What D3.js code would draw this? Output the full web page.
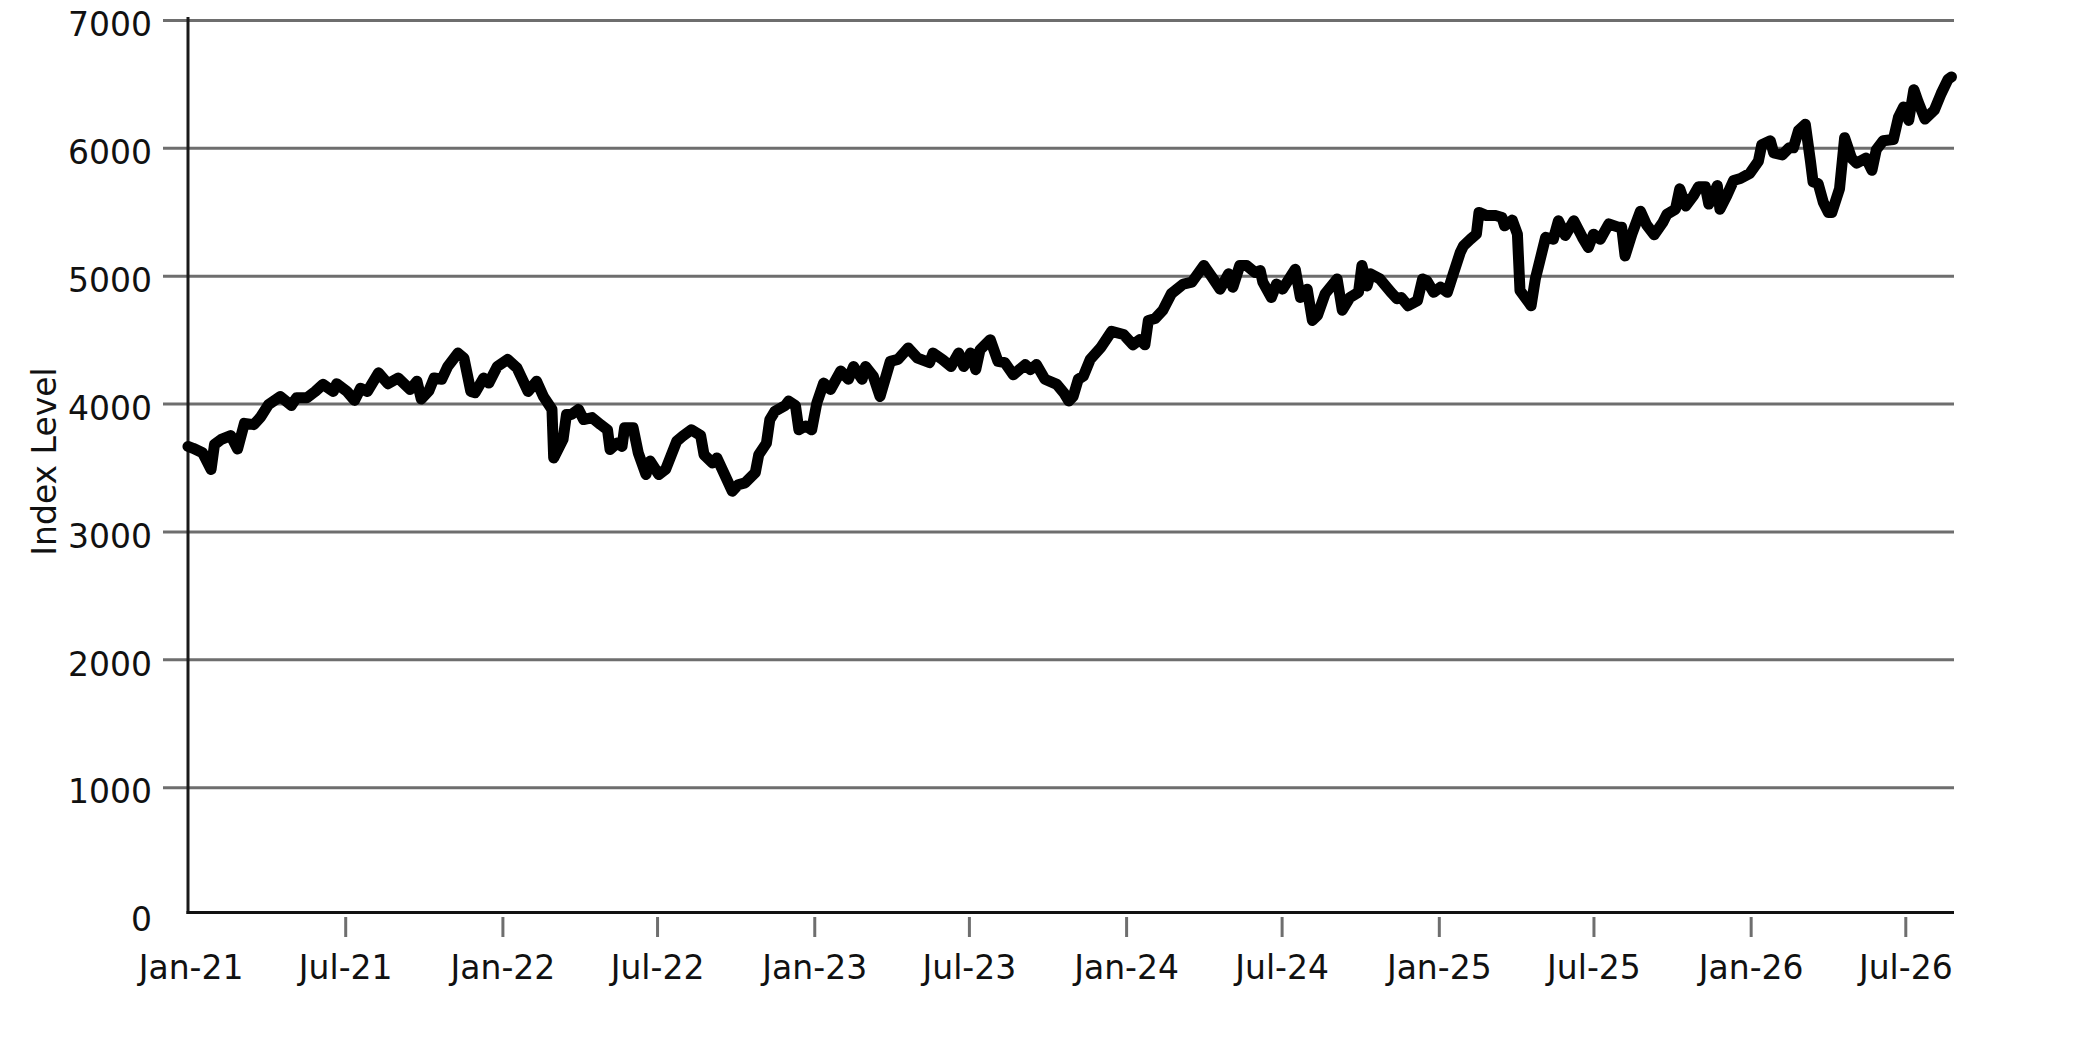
<!DOCTYPE html>
<html>
<head>
<meta charset="utf-8">
<script src="https://cdn.jsdelivr.net/npm/d3@7"></script>
<style>
  html, body { margin: 0; padding: 0; background: #ffffff; }
  svg { display: block; font-family: "DejaVu Sans", sans-serif; }
</style>
</head>
<body>
<svg id="chart" width="2083" height="1042"></svg>
<script>
// ---- data ----
const dates = [
"2020-12-29","2021-01-04","2021-01-15","2021-01-25","2021-01-29","2021-02-06","2021-02-17","2021-02-25","2021-03-05","2021-03-16",
"2021-03-24","2021-04-02","2021-04-16","2021-04-29","2021-05-05","2021-05-17","2021-05-27","2021-06-05","2021-06-17","2021-06-21",
"2021-07-03","2021-07-12","2021-07-19","2021-07-27","2021-08-09","2021-08-20","2021-09-01","2021-09-15","2021-09-23","2021-09-28",
"2021-10-07","2021-10-13","2021-10-22","2021-10-29","2021-11-10","2021-11-17","2021-11-25","2021-11-30","2021-12-10","2021-12-16",
"2021-12-26","2022-01-07","2022-01-18","2022-01-31","2022-02-10","2022-02-18","2022-02-28","2022-03-02","2022-03-13","2022-03-17",
"2022-03-23","2022-03-31","2022-04-06","2022-04-16","2022-04-26","2022-05-04","2022-05-07","2022-05-15","2022-05-21","2022-05-24",
"2022-06-03","2022-06-09","2022-06-18","2022-06-23","2022-07-03","2022-07-11","2022-07-24","2022-07-31","2022-08-10","2022-08-21",
"2022-08-25","2022-09-04","2022-09-09","2022-09-17","2022-09-27","2022-10-04","2022-10-12","2022-10-24","2022-10-28","2022-11-06",
"2022-11-10","2022-11-16","2022-11-28","2022-12-02","2022-12-10","2022-12-14","2022-12-22","2022-12-29","2023-01-04","2023-01-12",
"2023-01-20","2023-02-01","2023-02-10","2023-02-16","2023-02-26","2023-03-02","2023-03-11","2023-03-19","2023-03-31","2023-04-09",
"2023-04-21","2023-05-02","2023-05-16","2023-05-20","2023-05-31","2023-06-10","2023-06-19","2023-06-25","2023-07-03","2023-07-09",
"2023-07-14","2023-07-26","2023-08-04","2023-08-12","2023-08-22","2023-09-05","2023-09-11","2023-09-18","2023-09-28","2023-10-12",
"2023-10-20","2023-10-26","2023-10-31","2023-11-06","2023-11-12","2023-11-20","2023-12-02","2023-12-15","2023-12-29","2024-01-09",
"2024-01-17","2024-01-23","2024-01-27","2024-02-04","2024-02-13","2024-02-23","2024-03-08","2024-03-18","2024-04-01","2024-04-11",
"2024-04-20","2024-04-30","2024-05-05","2024-05-13","2024-05-21","2024-05-31","2024-06-06","2024-06-09","2024-06-19","2024-06-25",
"2024-07-02","2024-07-17","2024-07-23","2024-07-31","2024-08-06","2024-08-12","2024-08-21","2024-09-04","2024-09-10","2024-09-19",
"2024-09-29","2024-10-03","2024-10-09","2024-10-13","2024-10-24","2024-11-06","2024-11-13","2024-11-18","2024-11-26","2024-12-07",
"2024-12-13","2024-12-18","2024-12-26","2025-01-03","2025-01-11","2025-01-18","2025-01-26","2025-01-30","2025-02-07","2025-02-14",
"2025-02-17","2025-02-26","2025-03-09","2025-03-16","2025-03-19","2025-03-28","2025-04-03","2025-04-06","2025-04-19","2025-04-24",
"2025-05-06","2025-05-15","2025-05-21","2025-05-29","2025-06-08","2025-06-18","2025-06-25","2025-07-01","2025-07-09","2025-07-19",
"2025-07-30","2025-08-03","2025-08-07","2025-08-15","2025-08-25","2025-09-01","2025-09-10","2025-09-20","2025-09-25","2025-10-05",
"2025-10-10","2025-10-17","2025-10-26","2025-11-01","2025-11-09","2025-11-13","2025-11-23","2025-11-26","2025-12-04","2025-12-12",
"2025-12-20","2025-12-31","2026-01-10","2026-01-14","2026-01-24","2026-01-28","2026-02-07","2026-02-15","2026-02-20","2026-02-26",
"2026-03-06","2026-03-12","2026-03-15","2026-03-21","2026-03-27","2026-04-02","2026-04-06","2026-04-15","2026-04-21","2026-04-29",
"2026-05-05","2026-05-16","2026-05-23","2026-05-28","2026-06-05","2026-06-17","2026-06-23","2026-06-29","2026-07-05","2026-07-11",
"2026-07-16","2026-07-24","2026-08-04","2026-08-12","2026-08-20","2026-08-24"
];
const indexValues = [
3665,3650,3615,3485,3680,3720,3750,3645,3845,3835,
3895,3990,4055,3985,4045,4045,4095,4150,4095,4155,
4095,4025,4120,4095,4240,4155,4200,4110,4175,4035,
4100,4200,4190,4290,4395,4355,4095,4085,4200,4160,
4290,4345,4280,4095,4175,4055,3955,3575,3720,3915,
3915,3955,3875,3890,3835,3795,3640,3690,3665,3810,
3810,3615,3445,3550,3445,3485,3705,3745,3795,3750,
3600,3535,3575,3460,3315,3365,3380,3460,3600,3690,
3875,3940,3985,4020,3985,3795,3825,3795,4005,4160,
4110,4255,4190,4290,4190,4290,4215,4055,4330,4345,
4435,4355,4320,4395,4345,4290,4395,4290,4395,4265,
4420,4500,4330,4320,4225,4305,4265,4305,4190,4150,
4085,4020,4055,4190,4215,4345,4435,4565,4540,4460,
4500,4460,4650,4665,4730,4860,4935,4950,5080,4985,
4895,5015,4910,5080,5080,5025,5040,4950,4830,4935,
4895,5050,4830,4895,4650,4690,4860,4975,4730,4830,
4870,5080,4920,5015,4975,4870,4820,4830,4765,4805,
4975,4960,4870,4910,4870,5015,5180,5235,5285,5325,
5495,5470,5470,5455,5390,5435,5325,4885,4765,4975,
5300,5285,5430,5315,5430,5300,5220,5325,5285,5405,
5380,5380,5155,5325,5505,5400,5320,5415,5480,5520,
5680,5545,5625,5695,5695,5560,5705,5520,5625,5745,
5760,5800,5895,6025,6055,5960,5945,6000,6000,6135,
6185,5895,5735,5720,5575,5495,5495,5680,6080,5920,
5880,5920,5825,5985,6055,6065,6240,6320,6215,6455,
6360,6225,6295,6425,6535,6555
];
const yTickValues = [0, 1000, 2000, 3000, 4000, 5000, 6000, 7000];
const xTickDates = ["2021-01-01","2021-07-01","2022-01-01","2022-07-01","2023-01-01","2023-07-01",
                    "2024-01-01","2024-07-01","2025-01-01","2025-07-01","2026-01-01","2026-07-01"];
const xTickLabels = ["Jan-21","Jul-21","Jan-22","Jul-22","Jan-23","Jul-23",
                     "Jan-24","Jul-24","Jan-25","Jul-25","Jan-26","Jul-26"];
const yAxisTitle = "Index Level";
const xDomain = ["2020-12-29", "2026-08-27"];

// ---- layout ----
const parse = d3.timeParse("%Y-%m-%d");
const L = 188, R = 1954, T = 20, B = 915;
const svg = d3.select("#chart");

const x = d3.scaleTime().domain(xDomain.map(parse)).range([L, R]);
const y = d3.scaleLinear().domain([0, 7000]).range([B, T]);

const data = dates.map((d, i) => ({ date: parse(d), value: indexValues[i] }));

// y axis with gridlines
const yAxis = d3.axisLeft(y)
  .tickValues(yTickValues)
  .tickFormat(d3.format("d"))
  .tickSizeInner(25)
  .tickSizeOuter(0)
  .tickPadding(11);

const gy = svg.append("g").attr("transform", `translate(${L},0)`).call(yAxis);
gy.select(".domain").remove();
gy.selectAll(".tick line")
  .attr("x1", -25).attr("x2", R - L)
  .attr("stroke", "#6e6e6e").attr("stroke-width", 3)
  .attr("display", d => d === 0 ? "none" : null);
gy.selectAll(".tick text")
  .attr("dy", "0.48em")
  .attr("fill", "#111")
  .style("font-size", "33px")
  .style("font-family", "'DejaVu Sans', sans-serif");

// x axis
const xTickParsed = xTickDates.map(parse);
const xAxis = d3.axisBottom(x)
  .tickValues(xTickParsed)
  .tickFormat((d, i) => xTickLabels[i])
  .tickSizeInner(25)
  .tickSizeOuter(0)
  .tickPadding(19);

const gx = svg.append("g").attr("transform", `translate(0,912)`).call(xAxis);
gx.select(".domain").remove();
gx.selectAll(".tick line")
  .attr("y1", 5).attr("y2", 25)
  .attr("stroke", "#6e6e6e").attr("stroke-width", 3)
  .attr("display", (d, i) => i === 0 ? "none" : null);
gx.selectAll(".tick text")
  .attr("fill", "#111")
  .style("font-size", "33px")
  .style("font-family", "'DejaVu Sans', sans-serif");

// axis lines
svg.append("line")
  .attr("x1", L).attr("x2", L).attr("y1", 17).attr("y2", 914)
  .attr("stroke", "#1a1a1a").attr("stroke-width", 3);
svg.append("line")
  .attr("x1", L - 1.5).attr("x2", R).attr("y1", 912.5).attr("y2", 912.5)
  .attr("stroke", "#111").attr("stroke-width", 3);

// y axis title
svg.append("text")
  .attr("transform", `translate(44,${(T + B) / 2 - 6}) rotate(-90)`)
  .attr("text-anchor", "middle")
  .attr("dy", "0.35em")
  .attr("fill", "#111")
  .style("font-size", "33px")
  .text(yAxisTitle);

// series line
const line = d3.line().x(d => x(d.date)).y(d => y(d.value));
svg.append("path")
  .datum(data)
  .attr("d", line)
  .attr("fill", "none")
  .attr("stroke", "#000")
  .attr("stroke-width", 11)
  .attr("stroke-linejoin", "round")
  .attr("stroke-linecap", "round");
</script>
</body>
</html>
